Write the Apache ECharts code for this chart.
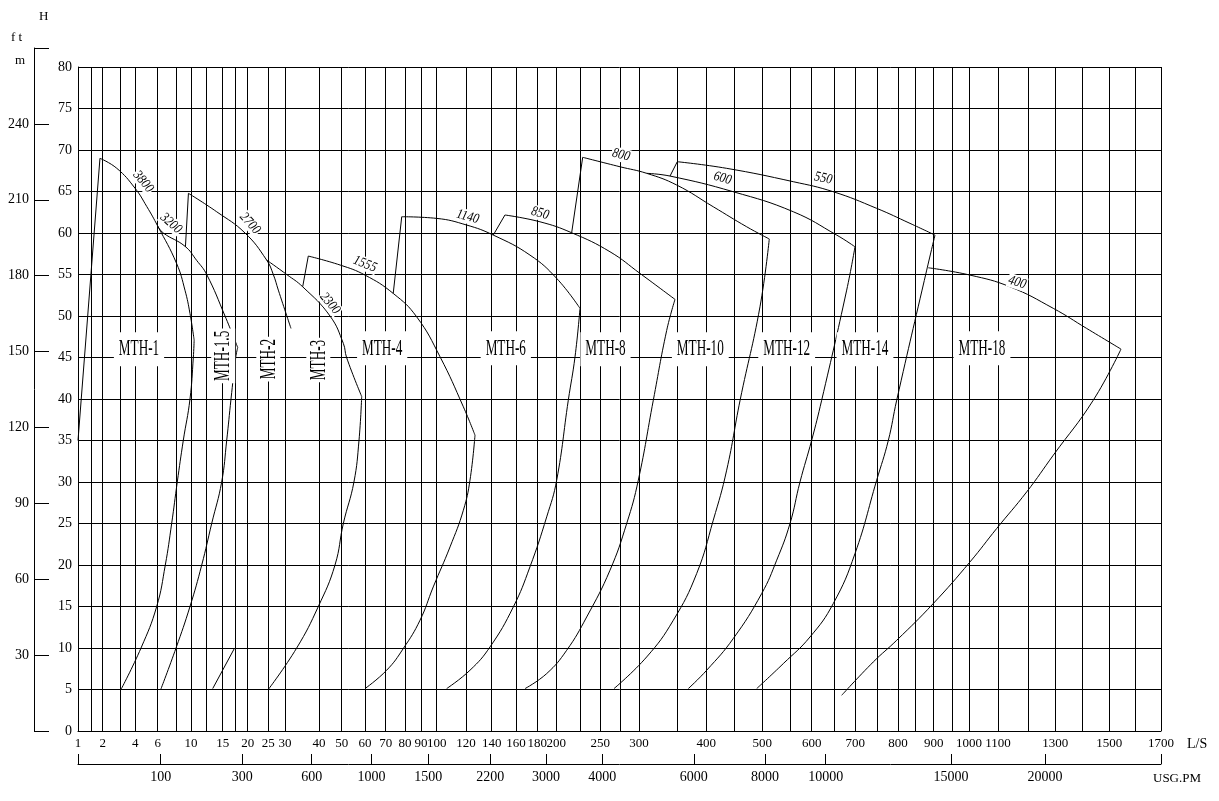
<!DOCTYPE html>
<html>
<head>
<meta charset="utf-8">
<script src="https://cdn.jsdelivr.net/npm/echarts@6/dist/echarts.min.js"></script>
<style>
  html, body { margin: 0; background: #fff; }
  #chart { width: 1219px; height: 801px; }
</style>
</head>
<body>
<div id="chart"></div>
<script>
// flow gridlines (L/S) and where each one sits along the sheet's uneven flow scale
const flowTicks = [1, 1.5, 2, 3, 4, 6, 8, 10, 12.5, 15, 17.5, 20, 25, 30, 40, 50, 60, 70, 80, 90, 100,
  120, 140, 160, 180, 200, 225, 250, 275, 300, 350, 400, 450, 500, 550, 600, 650, 700, 750, 800,
  850, 900, 950, 1000, 1100, 1200, 1300, 1400, 1500, 1600, 1700];
const scalePos = [0, 13.3, 24.7, 42.7, 57.3, 79.7, 98.7, 113, 128.7, 144.7, 157, 169.7, 190.3, 207, 241,
  263.7, 287, 307.7, 327, 343, 358.7, 388, 413.7, 438, 459.3, 478.3, 502.3, 522.3, 542, 561, 599.3,
  628.3, 656, 684.3, 712, 733.7, 756.3, 777.3, 799.3, 820, 837.7, 855.7, 874.3, 891, 920, 950, 977.3,
  1004.7, 1031.3, 1057.3, 1083];
const flowLabels = [1, 2, 4, 6, 10, 15, 20, 25, 30, 40, 50, 60, 70, 80, 90, 100, 120, 140, 160, 180, 200,
  250, 300, 400, 500, 600, 700, 800, 900, 1000, 1100, 1300, 1500, 1700];
const usgTicks = [100, 300, 600, 1000, 1500, 2200, 3000, 4000, 6000, 8000, 10000, 15000, 20000];
const USG_PER_LS = 15.85;

// curves, [L/S, m]
const mth1Left = [[1, 35.0], [1.88, 69.0]];
const arc3800 = [[1.88, 69.0], [2.78, 67.8], [3.98, 65.4], [5.02, 63.2], [6, 60.84], [8, 56.3], [9.16, 53.1], [9.86, 50.3], [10.5, 47.1]];
const low3800 = [[10.5, 47.1], [10.37, 45], [9.86, 40], [8.92, 35], [8.08, 30], [7.47, 25], [6.8, 20], [5.91, 15], [4.51, 10], [3.02, 5]];
const arc3200 = [[6, 60.84], [6.59, 60], [9.16, 58.4], [10.9, 56.7], [12.5, 55], [15.47, 50], [18.03, 46.2]];
const low3200 = [[18.03, 46.2], [17.64, 45], [16.69, 40], [15.81, 35], [14.84, 30], [13.28, 25], [11.71, 20], [9.86, 15], [7.93, 10], [6.32, 5]];
const mth15Left = [[9.22, 58.34], [9.64, 64.78]];
const arc2700 = [[9.64, 64.78], [14.06, 62.56], [19.47, 60], [24.6, 56.74], [26.5, 55], [28, 53.12], [31.76, 48.5]];
const arc2300 = [[24.6, 56.74], [30.5, 55], [35.2, 53.52], [44.85, 50], [50.7, 46.7], [52.1, 45], [58.58, 40.3]];
const low2300 = [[58.58, 40.3], [57.42, 35], [55.25, 30], [50.7, 25], [47.05, 20], [39.8, 15], [33.44, 10], [25, 5]];
const mth3Left = [[35.2, 53.52], [36.85, 57.22]];
const arc1555 = [[36.85, 57.22], [49.3, 56.14], [60, 54.93], [73.9, 52.72], [87.3, 49.9], [102.3, 45.08], [118.2, 39.06], [127, 35.64]];
const low1555 = [[127, 35.64], [123.1, 30.22], [118.2, 26.6], [109.1, 22.18], [97.8, 17.36], [89.4, 13.35], [79.1, 9.93], [70.5, 7.32], [60, 5.11]];
const mth4Left = [[73.9, 52.72], [78.3, 61.96]];
const arc1140 = [[78.3, 61.96], [100, 61.76], [120.5, 60.96], [141.3, 59.75], [173.1, 57.34], [200.4, 54.53], [224.7, 50.92]];
const low1140 = [[224.7, 50.92], [219.5, 45.08], [212.5, 39.86], [200.4, 30.22], [189.9, 25.8], [173.1, 19.77], [157.8, 14.95], [138.7, 10.13], [123.1, 7.32], [106.8, 5.11]];
const mth6Left = [[141.3, 59.75], [150.9, 62.17]];
const arc850 = [[150.9, 62.17], [182.8, 61.35], [216, 60.03], [262.3, 57.74], [301.3, 55.13], [347, 52.0]];
const low850 = [[347, 52.0], [336.1, 48.24], [318.7, 39.86], [299.1, 30.22], [283.8, 25.0], [262.3, 19.37], [233, 13.74], [210.8, 9.72], [189.9, 6.92], [168.5, 5.11]];
const mth8Left = [[216, 60.03], [228, 69.12]];
const arc800 = [[228, 69.12], [275, 67.98], [310, 67.19], [349.2, 65.78], [412.6, 63.16], [472.4, 60.75], [512.6, 59.28]];
const low800 = [[512.6, 59.28], [495.9, 51.11], [460.8, 39.86], [436.8, 31.43], [412.6, 25.4], [383.4, 18.97], [344.8, 13.34], [310, 8.92], [267.4, 5.11]];
const arc600 = [[310, 67.19], [340.5, 66.86], [448.7, 64.97], [557.6, 62.56], [655.7, 59.75], [699.3, 58.34]];
const low600 = [[699.3, 58.34], [679.5, 53.12], [622.1, 39.86], [600, 35.04], [573, 30], [550, 25.0], [526, 20.58], [498.9, 16.56], [448.7, 11.14], [400.7, 7.32], [369, 5.11]];
const mth10Left = [[340.5, 66.86], [350, 68.59]];
const arc550 = [[350, 68.59], [436.8, 67.79], [557.6, 66.18], [647.8, 64.97], [748.6, 62.97], [833.9, 61.16], [903.5, 59.75]];
const low550 = [[903.5, 59.75], [880.6, 55.53], [796.9, 39.86], [776.6, 35], [748.6, 30.22], [699.3, 21.38], [647.8, 15.36], [596.1, 11.33], [537.9, 8.12], [490.1, 5.11]];
const arc400 = [[885, 55.81], [1003.4, 54.93], [1140, 53.52], [1292.7, 50.92], [1415, 48.5], [1545, 46.01]];
const low400 = [[1545, 46.01], [1439.8, 39.86], [1292.7, 33.23], [1195.7, 28.81], [1095.5, 24.4], [1003.4, 20.37], [898.9, 15.36], [796.9, 10.93], [740.9, 8.32], [667.6, 4.3]];
const stub15 = [[13.44, 5.11], [17.36, 9.93]];

// speed marks on the curves (rpm)
const speedNames = ['3800', '3200', '2700', '2300', '1555', '1140', '850', '800', '600', '550', '400'];
const speedAt = [[4.71, 66.18], [7.4, 61.16], [20.56, 61.16], [44.85, 51.52], [60, 56.26], [121.3, 61.96],
  [182.8, 62.37], [276.3, 69.4], [429.6, 66.59], [625.7, 66.59], [1164, 54.05]];
const speedTilt = [-50, -42, -48, -50, -22, -15, -15, -15, -15, -12, -18];

// pump models
const modelNames = ['MTH-1', 'MTH-1.5', 'MTH-2', 'MTH-3', 'MTH-4', 'MTH-6', 'MTH-8', 'MTH-10', 'MTH-12', 'MTH-14', 'MTH-18'];
const modelAt = [[4.33, 46.0], [15.1, 45.2], [25, 44.8], [39.8, 44.7], [68.3, 46.1], [151.6, 46.1], [256.6, 46.0],
  [389.7, 46.0], [544, 46.0], [722, 46.0], [1044.8, 46.1]];
const modelUpright = [false, true, true, true, false, false, false, false, false, false, false];

function posOf(q) {
  if (q <= flowTicks[0]) return scalePos[0];
  for (let i = 0; i < flowTicks.length - 1; i++) {
    if (q <= flowTicks[i + 1]) {
      return scalePos[i] + (q - flowTicks[i]) / (flowTicks[i + 1] - flowTicks[i]) * (scalePos[i + 1] - scalePos[i]);
    }
  }
  return scalePos[scalePos.length - 1];
}

const FONT = 'Liberation Serif';
const axisEnd = scalePos[scalePos.length - 1];
const lsPos = flowLabels.map(posOf);
const usgPos = usgTicks.map(function (u) { return posOf(u / USG_PER_LS); });

function pickLabel(list, posList) {
  return function (v) {
    for (let i = 0; i < posList.length; i++) {
      if (Math.abs(posList[i] - v) < 1e-6) return String(list[i]);
    }
    return '';
  };
}

const curves = [mth1Left, arc3800, low3800, arc3200, low3200, mth15Left, arc2700, arc2300, low2300,
  mth3Left, arc1555, low1555, mth4Left, arc1140, low1140, mth6Left, arc850, low850, mth8Left, arc800,
  low800, arc600, low600, mth10Left, arc550, low550, arc400, low400, stub15];

const series = [];

// vertical gridlines follow the flow scale
series.push({
  type: 'line',
  data: [],
  z: 1,
  silent: true,
  markLine: {
    silent: true,
    symbol: ['none', 'none'],
    animation: false,
    label: { show: false },
    lineStyle: { color: '#000', width: 1, type: 'solid' },
    data: scalePos.map(function (p) { return { xAxis: p }; })
  }
});

curves.forEach(function (c) {
  series.push({
    type: 'line',
    xAxisIndex: 0,
    yAxisIndex: 0,
    z: 3,
    silent: true,
    showSymbol: false,
    smooth: c.length > 2 ? 0.45 : false,
    lineStyle: { color: '#000', width: 1 },
    data: c.map(function (d) { return [posOf(d[0]), d[1]]; })
  });
});

series.push({
  type: 'custom',
  xAxisIndex: 0,
  yAxisIndex: 0,
  z: 5,
  silent: true,
  data: speedAt.map(function (d, i) { return [posOf(d[0]), d[1], i]; }),
  renderItem: function (params, api) {
    const i = api.value(2);
    const pt = api.coord([api.value(0), api.value(1)]);
    return {
      type: 'text',
      x: pt[0], y: pt[1],
      rotation: speedTilt[i] * Math.PI / 180,
      scaleX: 0.85,
      style: {
        text: speedNames[i], fontSize: 14, fontFamily: FONT, fontStyle: 'italic', fill: '#000',
        align: 'center', verticalAlign: 'middle', backgroundColor: '#fff', padding: [0, 1]
      }
    };
  }
});

series.push({
  type: 'custom',
  xAxisIndex: 0,
  yAxisIndex: 0,
  z: 6,
  silent: true,
  data: modelAt.map(function (d, i) { return [posOf(d[0]), d[1], i]; }),
  renderItem: function (params, api) {
    const i = api.value(2);
    const pt = api.coord([api.value(0), api.value(1)]);
    return {
      type: 'text',
      x: pt[0], y: pt[1],
      rotation: modelUpright[i] ? Math.PI / 2 : 0,
      scaleX: 0.55,
      style: {
        text: modelNames[i], fontSize: 24, fontFamily: FONT, fill: '#000',
        align: 'center', verticalAlign: 'middle', backgroundColor: '#fff',
        padding: modelUpright[i] ? [0, 4] : [5, 9]
      }
    };
  }
});

const chart = echarts.init(document.getElementById('chart'));
chart.setOption({
  backgroundColor: '#fff',
  animation: false,
  textStyle: { fontFamily: FONT, color: '#000' },
  grid: [
    { left: 78, width: axisEnd, top: 67, bottom: 70, outerBoundsMode: 'none' },
    { left: 34, width: 20, top: 48, bottom: 70, outerBoundsMode: 'none' }
  ],
  xAxis: [
    {
      gridIndex: 0, type: 'value', min: 0, max: axisEnd, position: 'bottom',
      axisLine: { show: true, lineStyle: { color: '#000', width: 1 } },
      axisTick: { show: false },
      splitLine: { show: false },
      axisLabel: {
        customValues: lsPos, formatter: pickLabel(flowLabels, lsPos),
        fontFamily: FONT, fontSize: 13, color: '#000', margin: 6
      },
      name: 'L/S', nameLocation: 'end', nameGap: 26,
      nameTextStyle: { fontFamily: FONT, fontSize: 14, color: '#000', verticalAlign: 'top', padding: [6, 0, 0, 0] }
    },
    {
      gridIndex: 0, type: 'value', min: 0, max: axisEnd, position: 'bottom', offset: 33,
      axisLine: { show: true, lineStyle: { color: '#000', width: 1 } },
      axisTick: { show: true, inside: true, length: 10, customValues: [0].concat(usgPos, [axisEnd]), lineStyle: { color: '#000' } },
      splitLine: { show: false },
      axisLabel: {
        customValues: usgPos, formatter: pickLabel(usgTicks, usgPos),
        fontFamily: FONT, fontSize: 14, color: '#000', margin: 6
      },
      name: 'USG.PM', nameLocation: 'end', nameGap: -8,
      nameTextStyle: { fontFamily: FONT, fontSize: 13, color: '#000', verticalAlign: 'top', padding: [8, 0, 0, 0] }
    },
    { gridIndex: 1, type: 'value', show: false, min: 0, max: 1 }
  ],
  yAxis: [
    {
      gridIndex: 0, type: 'value', min: 0, max: 80, interval: 5,
      axisLine: { show: true, lineStyle: { color: '#000', width: 1 } },
      axisTick: { show: false },
      axisLabel: { fontFamily: FONT, fontSize: 14, color: '#000', margin: 6 },
      splitLine: { show: true, lineStyle: { color: '#000', width: 1 } }
    },
    {
      gridIndex: 1, type: 'value', min: 0, max: 270, interval: 30,
      axisLine: { show: true, lineStyle: { color: '#000', width: 1 } },
      axisTick: { show: true, inside: true, length: 15, lineStyle: { color: '#000' } },
      axisLabel: {
        fontFamily: FONT, fontSize: 14, color: '#000', margin: 5,
        formatter: function (v) { return (v === 0 || v === 270) ? '' : String(v); }
      },
      splitLine: { show: false }
    }
  ],
  graphic: [
    { type: 'text', left: 39, top: 10, style: { text: 'H', font: '13px "Liberation Serif"', fill: '#000' } },
    { type: 'text', left: 11, top: 31, style: { text: 'f t', font: '13px "Liberation Serif"', fill: '#000' } },
    { type: 'text', left: 15, top: 54, style: { text: 'm', font: '13px "Liberation Serif"', fill: '#000' } }
  ],
  series: series
});
</script>
</body>
</html>
